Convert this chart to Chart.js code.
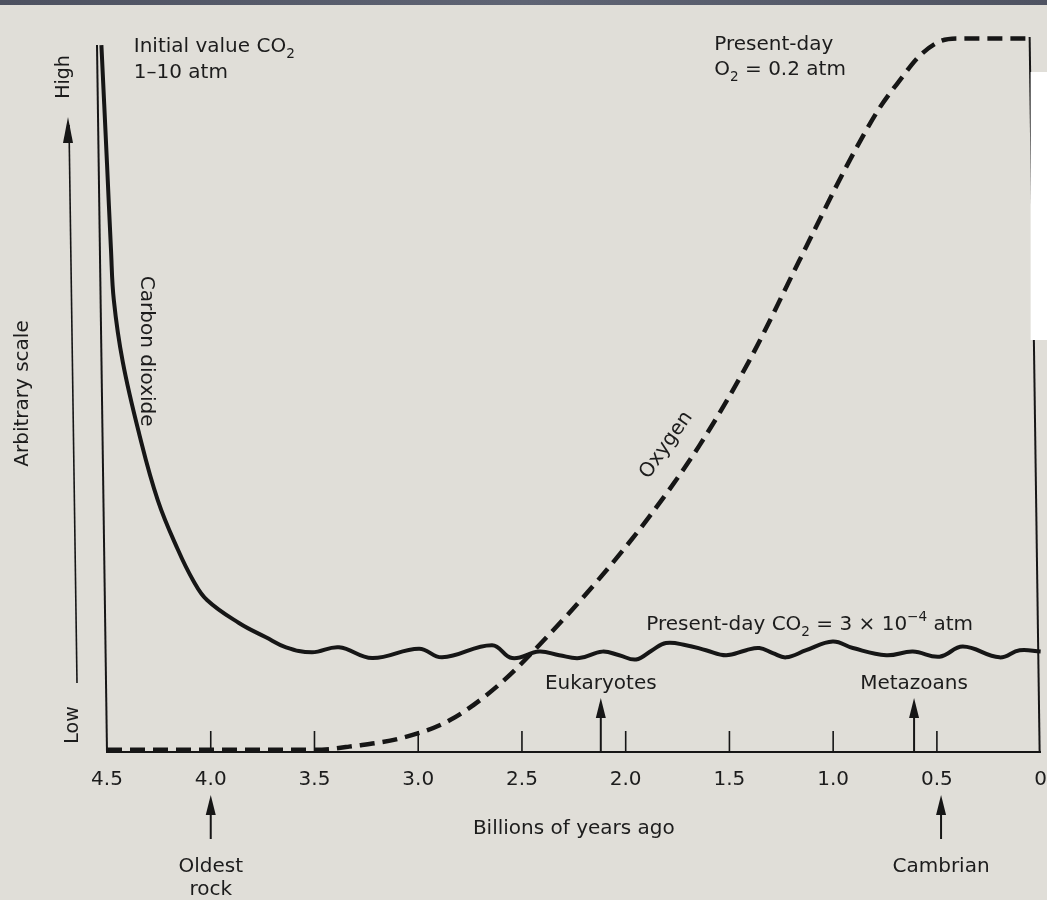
<!DOCTYPE html>
<html>
<head>
<meta charset="utf-8">
<script src="https://cdn.jsdelivr.net/npm/chart.js@4.4.1/dist/chart.umd.min.js"></script>
<style>
html,body{margin:0;padding:0;background:#e0ded8;overflow:hidden}
canvas{display:block}
</style>
</head>
<body>
<canvas id="c" width="1047" height="900"></canvas>
<script>
// ---- data ----
const co2Years  = [4.527, 4.5, 4.481, 4.467, 4.424, 4.346, 4.255, 4.158, 4.086, 4.018, 3.864, 3.734, 3.637, 3.512, 3.382, 3.222, 2.996, 2.885, 2.644, 2.547, 2.417, 2.320, 2.224, 2.113, 2.031, 1.950, 1.872, 1.806, 1.709, 1.613, 1.516, 1.419, 1.356, 1.291, 1.227, 1.130, 1.002, 0.905, 0.744, 0.616, 0.487, 0.375, 0.198, 0.101, 0.0];
const co2Values = [98.6, 82.1, 70.2, 63.0, 54.4, 44.5, 35.1, 28.2, 24.0, 21.2, 18.0, 16.0, 14.6, 13.9, 14.6, 13.1, 14.4, 13.2, 14.9, 13.1, 14.0, 13.5, 13.1, 14.0, 13.5, 12.9, 14.2, 15.2, 14.9, 14.2, 13.5, 14.2, 14.5, 13.8, 13.2, 14.2, 15.4, 14.5, 13.5, 14.0, 13.3, 14.7, 13.2, 14.2, 14.0];

const o2Years  = [4.5, 3.575, 3.43, 3.333, 3.092, 2.851, 2.610, 2.369, 2.127, 1.886, 1.645, 1.404, 1.163, 0.921, 0.777, 0.680, 0.584, 0.487, 0.391, 0.068];
const o2Values = [0.3, 0.3, 0.4, 0.75, 1.87, 4.38, 9.40, 16.37, 24.18, 32.83, 42.73, 54.59, 68.54, 82.48, 89.8, 93.64, 97.07, 99.09, 99.51, 99.51];

const xTickValues = [4.5, 4.0, 3.5, 3.0, 2.5, 2.0, 1.5, 1.0, 0.5, 0];
const xTickLabels = ['4.5', '4.0', '3.5', '3.0', '2.5', '2.0', '1.5', '1.0', '0.5', '0'];

const aboveEventNames = ['Eukaryotes', 'Metazoans'];
const aboveEventYears = [2.12, 0.61];
const belowEventNames = [['Oldest', 'rock'], ['Cambrian']];
const belowEventYears = [4.0, 0.48];

// ---- style ----
const FONT = "'DejaVu Sans', 'Liberation Sans', sans-serif";
const INK = '#161616';
const TXT = '#1c1c1c';
const BG = '#e0ded8';

function drawRich(ctx, x, y, parts, size, align) {
  let w = 0;
  const widths = parts.map(p => {
    const s = p[1] === 'n' ? size : size * 0.68;
    ctx.font = s + 'px ' + FONT;
    const m = ctx.measureText(p[0]).width;
    w += m;
    return m;
  });
  let cx = align === 'center' ? x - w / 2 : x;
  ctx.textAlign = 'left';
  ctx.textBaseline = 'alphabetic';
  parts.forEach((p, i) => {
    const s = p[1] === 'n' ? size : size * 0.68;
    ctx.font = s + 'px ' + FONT;
    let dy = 0;
    if (p[1] === 'sub') dy = size * 0.28;
    if (p[1] === 'sup') dy = -size * 0.45;
    ctx.fillText(p[0], cx, y + dy);
    cx += widths[i];
  });
}

function arrowUp(ctx, x, tipY, baseY) {
  ctx.beginPath();
  ctx.moveTo(x, baseY);
  ctx.lineTo(x, tipY + 6);
  ctx.lineWidth = 2;
  ctx.stroke();
  ctx.beginPath();
  ctx.moveTo(x, tipY);
  ctx.lineTo(x - 5, tipY + 20);
  ctx.lineTo(x + 5, tipY + 20);
  ctx.closePath();
  ctx.fill();
}

const deco = {
  id: 'deco',
  beforeDraw(chart) {
    const ctx = chart.ctx;
    ctx.save();
    ctx.fillStyle = BG;
    ctx.fillRect(0, 0, chart.width, chart.height);
    const g = ctx.createLinearGradient(0, 0, chart.width, 0);
    g.addColorStop(0, '#4d5160');
    g.addColorStop(0.5, '#5f6474');
    g.addColorStop(1, '#4f5362');
    ctx.fillStyle = g;
    ctx.fillRect(0, 0, chart.width, 5);
    ctx.restore();
  },
  beforeDatasetsDraw(chart) {
    const ctx = chart.ctx;
    const a = chart.chartArea;
    const xs = chart.scales.x;
    ctx.save();
    ctx.strokeStyle = INK;
    ctx.fillStyle = INK;
    // left (slightly tilted) and right frame lines
    ctx.lineWidth = 2;
    ctx.beginPath();
    ctx.moveTo(a.left - 10, a.top + 10);
    ctx.lineTo(a.left, a.bottom);
    ctx.stroke();
    ctx.beginPath();
    ctx.moveTo(a.right - 11, a.top + 2);
    ctx.lineTo(a.right - 1, a.bottom);
    ctx.stroke();
    // inward tick marks
    ctx.lineWidth = 1.6;
    xTickValues.forEach(v => {
      if (v === 0 || v === 4.5) return;
      const px = xs.getPixelForValue(v);
      ctx.beginPath();
      ctx.moveTo(px, a.bottom);
      ctx.lineTo(px, a.bottom - 21);
      ctx.stroke();
    });
    ctx.restore();
  },
  afterDraw(chart) {
    const ctx = chart.ctx;
    const a = chart.chartArea;
    const xs = chart.scales.x, ys = chart.scales.y;
    ctx.save();
    ctx.fillStyle = TXT;
    ctx.strokeStyle = INK;

    // y-axis "High / Low" arrow
    ctx.lineWidth = 1.6;
    ctx.beginPath();
    ctx.moveTo(a.left - 30, 683);
    ctx.lineTo(a.left - 38, 125);
    ctx.stroke();
    ctx.fillStyle = INK;
    ctx.beginPath();
    ctx.moveTo(a.left - 39, 117);
    ctx.lineTo(a.left - 44, 143);
    ctx.lineTo(a.left - 34, 143);
    ctx.closePath();
    ctx.fill();
    ctx.fillStyle = TXT;
    ctx.font = '19px ' + FONT;
    ctx.textAlign = 'center';
    ctx.textBaseline = 'middle';
    ctx.save(); ctx.translate(a.left - 43, 77); ctx.rotate(-Math.PI / 2); ctx.fillText('High', 0, 0); ctx.restore();
    ctx.save(); ctx.translate(a.left - 34, 725); ctx.rotate(-Math.PI / 2); ctx.fillText('Low', 0, 0); ctx.restore();

    // curve labels
    ctx.font = '20px ' + FONT;
    ctx.save();
    ctx.translate(xs.getPixelForValue(4.313), ys.getPixelForValue(55.9));
    ctx.rotate(Math.PI / 2);
    ctx.fillText('Carbon dioxide', 0, 0);
    ctx.restore();
    ctx.save();
    ctx.translate(xs.getPixelForValue(1.804), ys.getPixelForValue(42.8));
    ctx.rotate(-55 * Math.PI / 180);
    ctx.fillText('Oxygen', 0, 0);
    ctx.restore();

    // top annotations
    const x1 = xs.getPixelForValue(4.371);
    drawRich(ctx, x1, ys.getPixelForValue(97.6), [['Initial value CO', 'n'], ['2', 'sub']], 20, 'left');
    drawRich(ctx, x1, ys.getPixelForValue(94.0), [['1\u201310 atm', 'n']], 20, 'left');
    const x2 = xs.getPixelForValue(1.573);
    drawRich(ctx, x2, ys.getPixelForValue(97.9), [['Present-day', 'n']], 20, 'left');
    drawRich(ctx, x2, ys.getPixelForValue(94.4), [['O', 'n'], ['2', 'sub'], [' = 0.2 atm', 'n']], 20, 'left');
    drawRich(ctx, xs.getPixelForValue(1.901), ys.getPixelForValue(17.0),
      [['Present-day CO', 'n'], ['2', 'sub'], [' = 3 \u00d7 10', 'n'], ['\u22124', 'sup'], [' atm', 'n']], 20, 'left');

    // events above axis
    aboveEventYears.forEach((t, i) => {
      const px = xs.getPixelForValue(t);
      ctx.fillStyle = INK;
      arrowUp(ctx, px, 698, a.bottom);
      ctx.fillStyle = TXT;
      drawRich(ctx, px, 689, [[aboveEventNames[i], 'n']], 20, 'center');
    });
    // events below axis
    belowEventYears.forEach((t, i) => {
      const px = xs.getPixelForValue(t);
      ctx.fillStyle = INK;
      arrowUp(ctx, px, 795, 839);
      ctx.fillStyle = TXT;
      belowEventNames[i].forEach((line, k) => {
        drawRich(ctx, px, 872 + k * 23, [[line, 'n']], 20, 'center');
      });
    });

    // white patch (scan artifact)
    ctx.fillStyle = '#ffffff';
    ctx.fillRect(a.right - 10, 72, 20, 268);
    ctx.restore();
  }
};

const ctx = document.getElementById('c').getContext('2d');
new Chart(ctx, {
  type: 'line',
  data: {
    datasets: [
      {
        label: 'Carbon dioxide',
        data: co2Years.map((t, i) => ({x: t, y: co2Values[i]})),
        borderColor: INK,
        borderWidth: 4,
        pointRadius: 0,
        fill: false,
        clip: false,
        tension: 0.4
      },
      {
        label: 'Oxygen',
        data: o2Years.map((t, i) => ({x: t, y: o2Values[i]})),
        borderColor: INK,
        borderWidth: 4.5,
        borderDash: [15, 8],
        pointRadius: 0,
        fill: false,
        cubicInterpolationMode: 'monotone'
      }
    ]
  },
  options: {
    responsive: false,
    animation: false,
    devicePixelRatio: 1,
    layout: {padding: {left: 11, right: 6, top: 35, bottom: 59}},
    plugins: {legend: {display: false}, tooltip: {enabled: false}},
    scales: {
      x: {
        type: 'linear', min: 0, max: 4.5, reverse: true,
        border: {display: true, color: INK, width: 2},
        grid: {display: false, drawTicks: true, tickLength: 16},
        afterBuildTicks: (s) => { s.ticks = xTickValues.map(v => ({value: v})); },
        ticks: {
          padding: 0, color: TXT, font: {size: 20, family: FONT}, maxRotation: 0, autoSkip: false,
          callback: (v) => { const i = xTickValues.indexOf(v); return i >= 0 ? xTickLabels[i] : ''; }
        },
        title: {display: true, text: 'Billions of years ago', color: TXT, font: {size: 20, family: FONT}, padding: {top: 25, bottom: 0}}
      },
      y: {
        min: 0, max: 100,
        border: {display: false},
        grid: {display: false, drawTicks: false},
        ticks: {display: false},
        title: {display: true, text: 'Arbitrary scale', color: TXT, font: {size: 20, family: FONT}, padding: {top: 0, bottom: 72}}
      }
    }
  },
  plugins: [deco]
});
</script>
</body>
</html>
